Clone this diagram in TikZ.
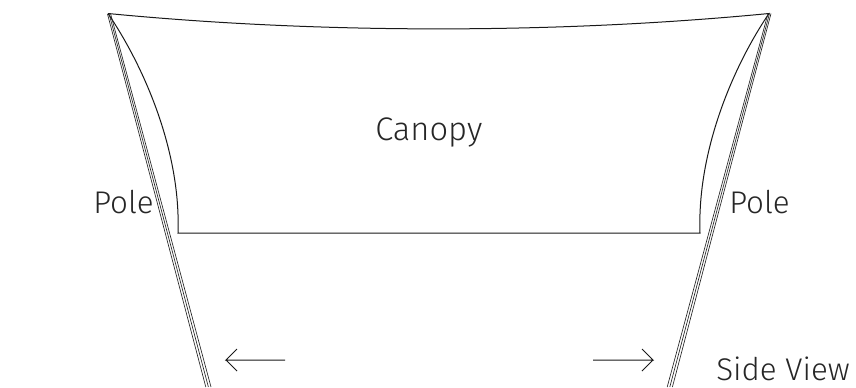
\documentclass[tikz,border=0pt]{standalone}
\usepackage{fontspec}
\setmainfont{Fira Sans Light}
\begin{document}
\begin{tikzpicture}[x=0.75pt,y=-0.75pt,
  outline/.style={draw=black!90,line width=0.75pt},
  poleline/.style={draw=black!85,line width=0.5pt},
  lbl/.style={inner sep=0pt,font=\fontsize{23.5}{28}\selectfont,text=black!85}]
\useasboundingbox (0,0) rectangle (856,387);
\coordinate (tl) at (108,13.5);
\coordinate (tr) at (769,13.5);
\coordinate (bl) at (178,233);
\coordinate (br) at (700,233);
\coordinate (lp1a) at (107.5,14);
\coordinate (lp1b) at (205.8,387);
\coordinate (lp2a) at (109,13.5);
\coordinate (lp2b) at (208.4,387);
\coordinate (lp3a) at (110.5,13.5);
\coordinate (lp3b) at (211,387);
\coordinate (rp1a) at (771,13.5);
\coordinate (rp1b) at (672.4,387);
\coordinate (rp2a) at (769.5,13.5);
\coordinate (rp2b) at (669.8,387);
\coordinate (rp3a) at (768,13.5);
\coordinate (rp3b) at (667.2,387);
\coordinate (lara) at (285,360);
\coordinate (larb) at (226,360);
\coordinate (rara) at (593,360);
\coordinate (rarb) at (653,360);
\draw[outline] (tl) .. controls (320,34) and (557,34) .. (tr)
  .. controls (734,65) and (697,150) .. (br) -- (bl)
  .. controls (181,150) and (143,65) .. (tl);
\foreach \a/\b in {lp1a/lp1b,lp2a/lp2b,lp3a/lp3b,rp1a/rp1b,rp2a/rp2b,rp3a/rp3b}
  \draw[poleline] (\a) -- (\b);
\draw[outline] (lara) -- (larb) -- ++(11,-11) (larb) -- ++(11,11);
\draw[outline] (rara) -- (rarb) -- ++(-11,-11) (rarb) -- ++(-11,11);
\node[lbl,anchor=base west,font=\fontsize{24.5}{28}\selectfont] (canopy) at (375,140) {Canopy};
\node[lbl,anchor=base west] (pole1) at (93,213) {Pole};
\node[lbl,anchor=base west] (pole2) at (729,213) {Pole};
\node[lbl,anchor=base west] (side) at (716,380) {Side View};
\end{tikzpicture}
\end{document}
